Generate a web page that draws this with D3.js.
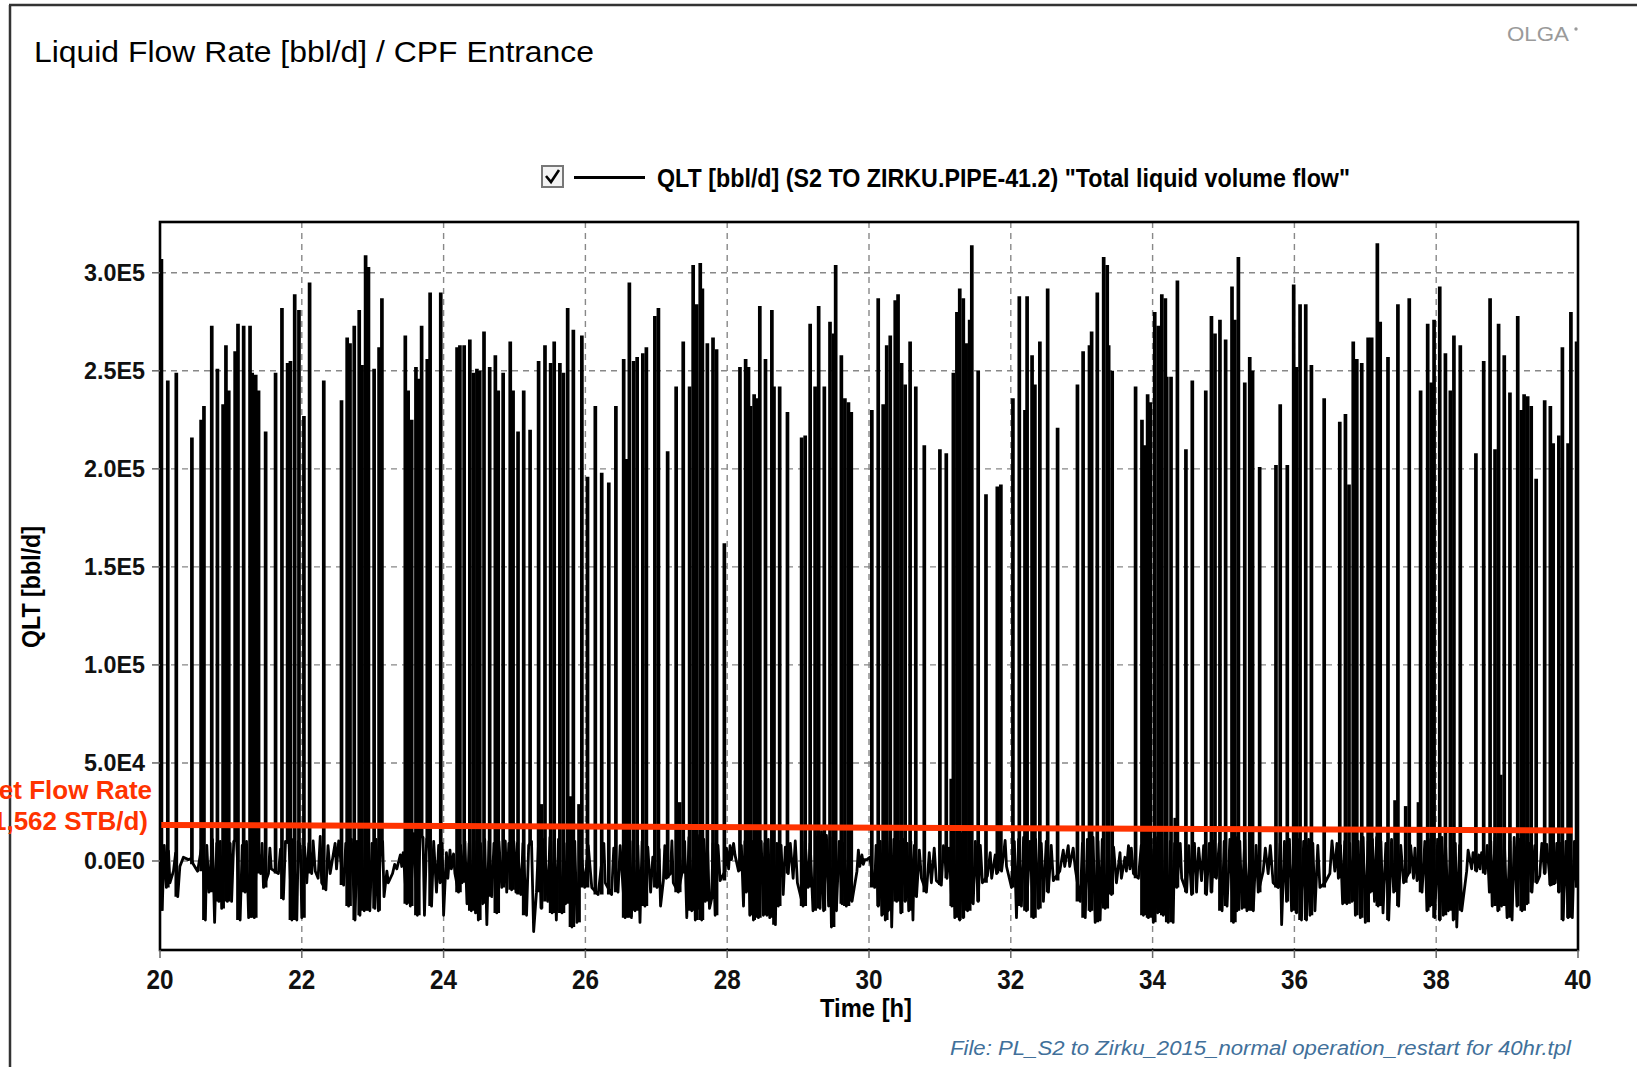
<!DOCTYPE html>
<html>
<head>
<meta charset="utf-8">
<script src="https://cdn.jsdelivr.net/npm/d3@7"></script>
<style>
  html, body { margin: 0; padding: 0; background: #fff; }
  svg { display: block; }
  text { font-family: "Liberation Sans", Arial, sans-serif; }
</style>
</head>
<body>
<svg id="chart" width="1637" height="1067"></svg>
<script>
// QLT at CPF entrance (time in h, flow in 1000 bbl/d)

// slug peaks
const spikeT = [
  20.02,20.11,20.23,20.45,20.58,20.62,20.73,20.81,20.89,20.93,20.97,21.06,21.10,21.18,21.27,21.30,21.35,21.39,21.49,21.63,
  21.72,21.80,21.84,21.90,21.96,22.03,22.11,22.31,22.56,22.64,22.68,22.74,22.81,22.85,22.90,22.94,23.02,23.09,23.13,23.46,
  23.50,23.55,23.61,23.65,23.69,23.77,23.81,23.96,24.19,24.23,24.29,24.37,24.42,24.47,24.51,24.57,24.65,24.73,24.77,24.84,
  24.94,24.98,25.05,25.13,25.22,25.34,25.38,25.43,25.51,25.56,25.64,25.69,25.75,25.79,25.83,25.91,25.95,26.03,26.14,26.23,
  26.33,26.43,26.54,26.58,26.62,26.68,26.73,26.81,26.86,26.98,27.03,27.16,27.28,27.33,27.38,27.47,27.52,27.57,27.62,27.65,
  27.72,27.80,27.85,27.96,28.18,28.26,28.30,28.33,28.38,28.42,28.46,28.54,28.63,28.66,28.74,28.85,29.05,29.10,29.17,29.24,
  29.29,29.37,29.45,29.50,29.53,29.61,29.66,29.71,29.75,30.04,30.13,30.20,30.25,30.30,30.37,30.41,30.46,30.51,30.58,30.66,
  30.78,31.00,31.09,31.16,31.19,31.24,31.28,31.33,31.37,31.42,31.45,31.54,31.65,31.81,31.86,32.03,32.12,32.20,32.23,32.30,
  32.34,32.41,32.52,32.66,32.94,33.02,33.11,33.14,33.22,33.31,33.36,33.38,33.43,33.76,33.85,33.89,33.93,33.97,34.03,34.08,
  34.13,34.18,34.20,34.26,34.32,34.35,34.47,34.56,34.75,34.83,34.88,34.95,35.03,35.12,35.16,35.21,35.30,35.37,35.41,35.51,
  35.74,35.80,35.90,35.99,36.03,36.08,36.16,36.24,36.42,36.64,36.72,36.77,36.83,36.88,36.95,37.04,37.09,37.17,37.21,37.32,
  37.42,37.46,37.57,37.62,37.75,37.78,37.88,37.93,37.97,38.05,38.13,38.20,38.25,38.34,38.56,38.67,38.76,38.83,38.88,38.91,
  38.96,39.04,39.15,39.20,39.24,39.29,39.34,39.41,39.53,39.61,39.65,39.73,39.78,39.86,39.90,39.98
];
const spikeK = [
  307,245,249,216,225,232,273,251,233,263,240,260,274,273,273,249,248,240,219,249,
  282,254,255,289,281,227,295,245,235,267,264,273,281,253,309,303,251,262,287,268,
  240,225,252,246,273,256,290,290,262,263,263,266,249,251,250,270,252,258,240,249,
  265,240,219,240,220,255,29,263,254,265,254,249,282,33,271,29,268,196,232,198,
  193,232,256,205,295,255,257,259,262,278,282,209,242,30,265,242,304,284,305,292,
  264,267,261,162,252,256,252,232,238,236,283,256,281,242,242,229,216,217,274,242,
  283,242,275,269,304,258,236,234,229,230,287,233,263,268,286,289,254,243,265,242,
  212,210,208,42,249,280,292,287,264,276,314,250,187,191,192,236,288,230,288,258,
  243,265,292,221,243,260,263,270,290,308,304,263,250,242,225,212,238,234,280,273,
  289,287,247,247,22,296,210,245,240,278,269,276,266,293,276,308,244,257,250,201,
  202,233,202,294,252,284,284,253,236,224,228,192,265,256,254,267,267,315,275,257,
  31,284,28,287,30,240,274,244,276,293,259,240,268,263,208,255,287,210,274,44,
  258,239,278,230,238,237,232,195,235,232,213,217,262,213,280,265
];

// low band between slugs: dips and quiet stretches
const bandT = [
  20.03,20.09,20.14,20.19,20.25,20.28,20.33,20.40,20.44,20.47,20.53,20.64,20.69,20.77,20.83,20.87,20.95,21.01,21.13,21.20,
  21.25,21.33,21.42,21.44,21.46,21.53,21.55,21.57,21.67,21.74,21.86,21.93,22.00,22.07,22.14,22.16,22.19,22.23,22.26,22.28,
  22.34,22.37,22.40,22.47,22.49,22.52,22.59,22.66,22.75,22.82,22.88,22.96,23.03,23.08,23.16,23.20,23.22,23.28,23.31,23.34,
  23.39,23.41,23.43,23.48,23.53,23.63,23.73,23.83,23.90,23.95,24.00,24.04,24.06,24.09,24.11,24.14,24.16,24.21,24.26,24.33,
  24.39,24.45,24.49,24.55,24.61,24.68,24.75,24.82,24.87,24.89,24.96,25.02,25.04,25.09,25.17,25.27,25.31,25.38,25.47,25.53,
  25.59,25.67,25.72,25.81,25.88,25.99,26.04,26.09,26.18,26.26,26.28,26.37,26.40,26.46,26.49,26.56,26.65,
  26.70,26.77,26.84,26.92,26.95,27.01,27.06,27.10,27.12,27.14,27.20,27.22,27.24,27.31,27.36,27.43,27.50,27.55,27.59,27.64,
  27.69,27.75,27.78,27.83,27.90,27.97,27.99,28.02,28.04,28.06,28.09,28.11,28.16,28.23,28.27,28.32,28.37,28.44,28.51,28.56,
  28.60,28.68,28.72,28.79,28.86,28.89,28.93,28.96,28.99,29.07,29.14,29.21,29.31,29.36,29.43,29.47,29.54,29.62,29.68,29.76,
  29.83,29.85,29.87,29.90,29.92,29.94,29.97,30.01,30.08,30.13,30.18,30.23,30.27,30.32,30.39,30.45,30.51,30.56,30.62,30.67,
  30.71,30.74,30.81,30.85,30.88,30.92,30.95,31.02,31.05,31.10,31.13,31.17,31.21,31.28,31.33,31.39,31.47,31.54,31.60,31.67,
  31.71,31.73,31.78,31.80,31.85,31.87,31.92,31.94,32.01,32.08,32.15,32.22,32.32,32.39,32.46,32.53,32.60,32.69,32.74,32.76,
  32.81,32.83,32.88,32.91,32.98,33.05,33.12,33.19,33.26,33.33,
  33.42,33.49,33.54,33.56,33.61,33.63,33.66,33.68,33.70,33.73,33.80,33.87,33.94,34.01,34.07,34.15,34.22,34.29,34.34,34.39,
  34.41,34.48,34.51,34.55,34.59,34.62,34.65,34.69,34.72,34.76,34.80,34.83,34.87,34.90,34.98,35.05,35.14,35.19,35.26,35.33,
  35.42,35.49,35.56,35.59,35.63,35.66,35.70,35.77,35.82,35.89,35.96,36.03,36.10,36.17,36.22,36.29,36.36,36.43,36.50,36.53,
  36.57,36.60,36.62,36.68,36.74,36.81,36.86,36.93,37.00,37.07,37.13,37.18,37.25,37.33,37.40,37.47,37.54,37.61,37.64,37.68,
  37.70,37.73,37.80,37.87,37.91,37.98,38.05,38.10,38.17,38.24,38.29,38.36,38.43,38.45,38.50,38.52,38.57,38.60,38.62,38.64,
  38.69,38.75,38.79,38.87,38.92,39.00,39.07,39.14,39.21,39.28,39.35,39.39,39.42,39.46,39.49,39.53,39.56,39.61,39.68,39.70,
  39.73,39.79,39.86,39.92,39.98
];
const bandK = [
  -25.4,-13.5,-11.1,-5.2,-18.2,-2.8,1.9,0.7,1.2,-1.7,-5.2,-30.1,-15.9,-31.3,-20.6,-24.2,-20.6,-20.6,-30.1,-15.9,
  -28.9,-28.9,-6.4,9.0,-13.5,-6.4,6.6,-4.0,-6.4,-19.4,-30.1,-30.1,-28.9,-11.1,-6.4,10.2,-5.2,-8.8,12.6,-11.1,
  -14.7,7.8,-6.4,9.0,-4.0,10.2,-12.3,-23.0,-30.1,-27.7,-25.4,-25.4,-24.2,-25.4,-18.2,-5.2,-11.1,-6.4,-1.7,-4.0,
  3.1,-2.8,4.3,-21.8,-23.0,-27.7,-27.7,-23.0,-15.9,-11.1,-27.7,4.3,-8.8,5.5,-4.0,3.6,-6.4,-15.9,-11.1,-21.8,
  -25.4,-26.5,-30.1,-21.8,-32.5,-18.2,-26.5,-13.5,10.2,-15.9,-14.7,-15.9,9.0,-17.1,-27.7,-36.0,-15.9,-24.2,-20.6,-26.5,
  -30.1,-26.5,-21.8,-33.7,-31.3,-13.5,7.8,-13.5,-17.1,9.0,-11.1,-17.1,6.6,-15.9,7.8,-28.9,-28.9,
  -25.4,-31.3,-23.0,-15.9,1.9,-13.5,-23.0,-10.0,7.8,-8.8,-6.4,10.2,-11.1,-15.9,-6.4,-28.9,-25.4,-30.1,-24.2,-30.1,
  -20.6,-24.2,-19.4,-27.7,-10.0,-5.2,6.6,-4.0,7.8,0.7,9.0,3.1,-5.2,-23.0,-15.9,-27.7,-30.1,-28.9,-27.7,-27.7,
  -28.9,-32.5,-23.0,-17.1,-6.4,9.0,-8.8,10.2,-11.1,-23.0,-13.5,-25.4,-24.2,-25.4,-23.0,-33.7,-25.4,-21.8,-23.0,-20.6,
  -5.2,5.5,-2.8,3.1,-1.7,0.7,0.7,1.9,-13.5,-23.0,-27.7,-30.1,-25.4,-33.7,-20.6,-26.5,-20.6,-25.4,-30.1,-18.2,
  5.5,-8.8,-15.9,4.3,-11.1,6.6,-10.0,-12.3,7.8,-8.8,6.6,-23.0,-28.9,-30.1,-28.9,-25.4,-21.8,-20.6,-11.1,-7.6,
  4.3,-8.8,3.1,-6.4,10.2,-5.2,10.5,-2.8,-13.5,-28.9,-23.0,-25.4,-28.9,-24.2,-20.6,-15.9,-10.0,-5.2,5.5,-2.8,
  7.8,-2.8,6.6,-4.0,-20.6,-28.9,-25.4,-31.3,-30.1,-24.2,
  -17.1,-11.1,4.3,-8.8,1.9,-5.2,7.8,-4.0,6.6,-6.4,-8.8,-27.7,-28.9,-31.3,-26.5,-27.7,-31.3,-31.3,-13.5,9.0,
  -8.8,-15.9,7.8,-17.1,9.0,-15.9,6.6,-10.0,7.8,-17.1,9.0,-15.9,10.2,-8.8,-25.4,-23.0,-31.3,-25.4,-24.2,-25.4,
  -25.4,-15.9,-5.2,6.6,-6.4,7.8,-11.1,-13.5,-32.5,-20.6,-25.4,-26.5,-30.1,-30.1,-27.7,-25.4,-13.5,-11.1,-6.4,10.2,
  -5.2,9.0,-8.8,-21.8,-21.8,-20.6,-27.7,-28.9,-31.3,-15.9,-20.6,-23.0,-26.5,-30.1,-15.9,-23.0,-11.1,-6.4,7.8,-8.8,
  6.6,-10.0,-15.9,-25.4,-23.0,-28.9,-30.1,-27.7,-25.4,-30.1,-33.7,-25.4,-5.2,5.5,-4.0,4.3,-5.2,3.1,-4.0,4.3,
  -6.4,-15.9,-23.0,-25.4,-23.0,-28.9,-30.1,-23.0,-25.4,-21.8,-15.9,7.8,-11.1,-7.6,9.0,-6.4,8.4,-12.3,-11.1,9.0,
  -15.9,-30.1,-28.9,-28.9,-13.5
];

// upper edge of the band inside the slug trains
const topT = [
  20.06,20.12,20.22,
  20.60,20.66,20.74,20.80,20.85,20.91,20.99,21.04,21.08,21.16,21.22,21.29,21.37,
  21.70,21.77,21.82,21.88,21.95,21.98,22.04,22.10,
  22.62,22.70,22.78,22.84,22.92,22.99,23.05,23.11,23.14,
  23.51,23.58,23.67,23.71,23.76,23.79,23.86,23.93,23.98,
  24.24,24.30,24.36,24.42,24.47,24.52,24.58,24.64,24.71,24.78,24.85,24.92,24.99,
  25.12,25.20,25.24,25.34,25.42,25.50,25.56,25.62,25.70,25.76,25.85,25.93,
  26.60,26.67,26.74,26.80,26.88,27.04,
  27.40,27.46,27.53,27.57,27.61,27.67,27.72,27.80,27.87,
  28.20,28.25,28.30,28.35,28.40,28.48,28.53,28.58,28.64,28.70,28.76,28.82,
  29.10,29.17,29.26,29.33,29.40,29.45,29.51,29.58,29.65,29.72,
  30.10,30.16,30.21,30.25,30.30,30.35,30.42,30.48,30.54,30.59,30.64,
  31.19,31.25,31.30,31.36,31.43,31.50,31.57,
  32.05,32.11,32.18,32.27,32.35,32.43,32.50,32.57,
  33.01,33.08,33.16,33.23,33.29,33.37,33.45,
  33.84,33.91,33.98,34.04,34.11,34.18,34.25,34.31,
  34.94,35.01,35.09,35.17,35.23,35.30,35.38,35.46,
  35.80,35.86,35.93,36.00,36.07,36.13,36.20,36.26,36.33,
  36.65,36.71,36.78,36.84,36.90,36.97,37.04,37.10,37.16,37.22,37.29,37.37,37.44,37.50,
  37.77,37.84,37.89,37.95,38.02,38.08,38.13,38.21,38.27,38.33,
  38.72,38.77,38.83,38.90,38.96,39.04,39.10,39.18,39.24,39.31,
  39.76,39.83,39.89,39.95
];
const topK = [
  8,5,4,
  10,8,11,9,10,12,9,10,11,8,10,9,11,
  6,10,9,11,10,8,7,9,
  9,11,10,12,10,9,11,8,10,
  12,14,13,12,11,13,10,8,9,
  8,10,9,11,10,9,11,10,9,10,8,9,10,
  9,8,10,10,11,12,10,11,9,12,10,8,
  9,10,8,10,7,6,
  10,12,11,12,13,11,10,9,8,
  8,10,11,10,12,10,9,11,10,9,8,7,
  10,9,12,15,13,12,11,10,9,8,
  8,10,11,10,12,11,10,11,9,10,8,
  10,12,14,13,12,10,8,
  10,11,12,10,11,9,10,8,
  9,11,12,10,11,9,7,
  8,10,11,12,11,12,10,9,
  9,10,11,12,10,11,10,8,
  9,10,11,12,11,10,11,9,8,
  8,10,9,11,10,12,10,11,12,10,9,11,9,8,
  8,10,11,12,11,12,10,11,9,8,
  8,10,12,14,11,10,12,11,10,9,
  9,10,11,10
];

// hand-drawn target line
const targetT = [20.01, 39.93];
const targetK = [18.4, 15.6];

const xTicks = [20, 22, 24, 26, 28, 30, 32, 34, 36, 38, 40];
const yTicks = [0, 50000, 100000, 150000, 200000, 250000, 300000];
const yTickLabels = ["0.0E0", "5.0E4", "1.0E5", "1.5E5", "2.0E5", "2.5E5", "3.0E5"];

// ---------------------------------------------------------------
const W = 1637, H = 1067;
const pL = 160, pR = 1578, pT = 222, pB = 950;

const svg = d3.select("#chart");
const x = d3.scaleLinear().domain([20, 40]).range([pL, pR]);
const y = d3.scaleLinear().domain([-45400, 325900]).range([pB, pT]);

function label(sel, str, px, py, o) {
  const t = sel.append("text").attr("x", px).attr("y", py).text(str)
    .attr("font-size", o.size + "px")
    .attr("font-weight", o.weight || "normal")
    .attr("text-anchor", o.anchor || "start")
    .attr("fill", o.fill || "#000");
  if (o.len) t.attr("textLength", o.len).attr("lengthAdjust", "spacingAndGlyphs");
  if (o.italic) t.attr("font-style", "italic");
  return t;
}

// outer frame
svg.append("line").attr("x1", 10).attr("x2", 10).attr("y1", 5).attr("y2", H)
   .attr("stroke", "#333").attr("stroke-width", 2.5);
svg.append("line").attr("x1", 9).attr("x2", W).attr("y1", 5).attr("y2", 5)
   .attr("stroke", "#333").attr("stroke-width", 2.5);

// title + logo
label(svg, "Liquid Flow Rate [bbl/d] / CPF Entrance", 34, 62, { size: 30, len: 560 });
label(svg, "OLGA", 1507, 41, { size: 20, len: 62, fill: "#9a9a9a" });
svg.append("circle").attr("cx", 1576).attr("cy", 29).attr("r", 1.7).attr("fill", "#9a9a9a");

// legend
const lg = svg.append("g");
lg.append("rect").attr("x", 542).attr("y", 166).attr("width", 21).attr("height", 21)
  .attr("fill", "#f3f3f3").attr("stroke", "#777").attr("stroke-width", 2);
lg.append("path").attr("d", "M546,176 L551,182 L559,170").attr("fill", "none")
  .attr("stroke", "#000").attr("stroke-width", 2.6);
lg.append("line").attr("x1", 574).attr("x2", 645).attr("y1", 177.5).attr("y2", 177.5)
  .attr("stroke", "#000").attr("stroke-width", 3);
label(lg, "QLT [bbl/d] (S2 TO ZIRKU.PIPE-41.2) \"Total liquid volume flow\"", 657, 187,
  { size: 26, weight: "bold", len: 693 });

// grid
const grid = svg.append("g").attr("stroke", "#888").attr("stroke-width", 1.4).attr("stroke-dasharray", "6,5");
grid.selectAll(".gy").data(yTicks).join("line")
  .attr("x1", pL).attr("x2", pR).attr("y1", d => y(d)).attr("y2", d => y(d));
grid.selectAll(".gx").data(xTicks.slice(1, -1)).join("line")
  .attr("x1", d => x(d)).attr("x2", d => x(d)).attr("y1", pT).attr("y2", pB);

// series
svg.append("clipPath").attr("id", "plotclip").append("rect")
  .attr("x", pL).attr("y", pT).attr("width", pR - pL).attr("height", pB - pT);
const plot = svg.append("g").attr("clip-path", "url(#plotclip)");

const band = bandT.map((t, i) => ({ t, v: bandK[i] * 1000 }))
  .concat(topT.map((t, i) => ({ t, v: topK[i] * 1000 })))
  .sort((a, b) => a.t - b.t);
const bis = d3.bisector(d => d.t).left;
const spikes = spikeT.map((t, i) => {
  const j = bis(band, t);
  const nb = [band[j - 1], band[j]].filter(Boolean).map(d => d.v);
  return { t, v: spikeK[i] * 1000, base: d3.min(nb) };
});

const line = d3.line().x(d => x(d.t)).y(d => y(d.v));
plot.append("path").datum(band).attr("d", line).attr("fill", "none")
  .attr("stroke", "#000").attr("stroke-width", 2.8).attr("stroke-linejoin", "round");

plot.selectAll(".spike").data(spikes).join("line")
  .attr("x1", d => x(d.t)).attr("x2", d => x(d.t))
  .attr("y1", d => y(d.base)).attr("y2", d => y(d.v))
  .attr("stroke", "#000").attr("stroke-width", 3.7);

// target line
const target = targetT.map((t, i) => ({ t, v: targetK[i] * 1000 }));
svg.append("path").datum(target).attr("d", line).attr("fill", "none")
  .attr("stroke", "#ff3300").attr("stroke-width", 6);

// plot frame
svg.append("rect").attr("x", pL).attr("y", pT).attr("width", pR - pL).attr("height", pB - pT)
  .attr("fill", "none").attr("stroke", "#000").attr("stroke-width", 2.6);

// ticks
const tk = svg.append("g").attr("stroke", "#666").attr("stroke-width", 1.5);
tk.selectAll(".ty").data(yTicks).join("line")
  .attr("x1", pL - 8).attr("x2", pL).attr("y1", d => y(d)).attr("y2", d => y(d));
tk.selectAll(".tx").data(xTicks).join("line")
  .attr("x1", d => x(d)).attr("x2", d => x(d)).attr("y1", pB).attr("y2", pB + 8);

yTicks.forEach((v, i) => {
  label(svg, yTickLabels[i], 145, y(v) + 8.5, { size: 24, weight: "bold", anchor: "end", len: 61, fill: "#111" });
});
xTicks.forEach(v => {
  label(svg, String(v), x(v), 989, { size: 27.5, weight: "bold", anchor: "middle", len: 27, fill: "#111" });
});

// axis titles
label(svg, "Time [h]", 866, 1017, { size: 25, weight: "bold", anchor: "middle", len: 92 });
label(svg, "QLT [bbl/d]", 0, 0, { size: 25, weight: "bold", anchor: "middle", len: 122 })
  .attr("transform", "translate(40,587) rotate(-90)");

// target annotation (runs off the left edge, as in the source slide)
label(svg, "Target Flow Rate", 152, 799, { size: 26, weight: "bold", anchor: "end", fill: "#ff3300" });
label(svg, "(21,562 STB/d)", 148, 830, { size: 26, weight: "bold", anchor: "end", fill: "#ff3300" });

// file note
label(svg, "File: PL_S2 to Zirku_2015_normal operation_restart for 40hr.tpl", 950, 1055,
  { size: 20, italic: true, len: 621, fill: "#41709a" });
</script>
</body>
</html>
